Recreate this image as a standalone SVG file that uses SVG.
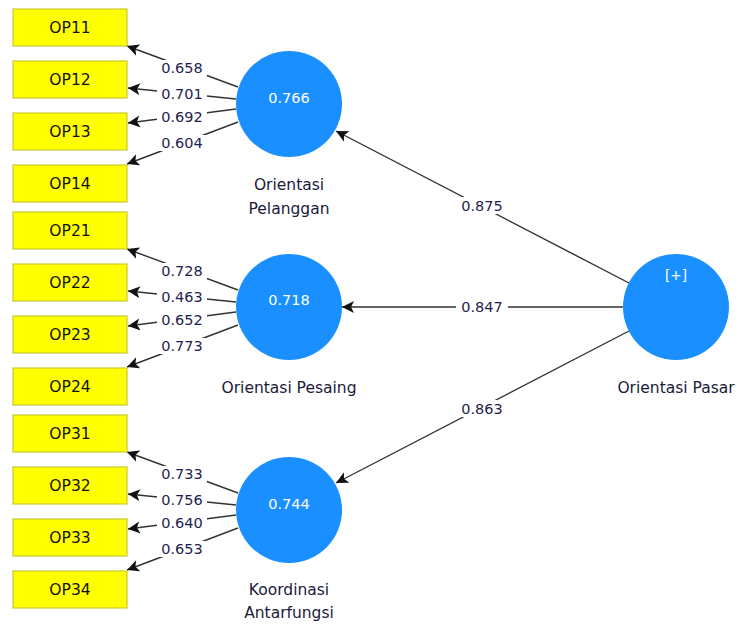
<svg xmlns="http://www.w3.org/2000/svg" width="741" height="627" viewBox="0 0 741 627">
<style>
.box{fill:#ffff00;stroke:#c8c832;stroke-width:1.2}
.bt{font-family:"DejaVu Sans",sans-serif;font-size:15.5px;fill:#111;text-anchor:middle}
.lv{fill:#1a8fff}
.ct{font-family:"DejaVu Sans",sans-serif;font-size:14.5px;fill:#ffffff;text-anchor:middle}
.lab{font-family:"DejaVu Sans",sans-serif;font-size:15.5px;fill:#1a1a3a;text-anchor:middle}
.num{font-family:"DejaVu Sans",sans-serif;font-size:14.5px;fill:#1e1e4e;text-anchor:middle}
.ln{stroke:#333;stroke-width:1.4;fill:none;marker-end:url(#ah)}
.bg{fill:#ffffff}
</style>
<defs>
<marker id="ah" markerUnits="userSpaceOnUse" markerWidth="14" markerHeight="13" refX="12" refY="6" orient="auto">
<path d="M0,0 L12,6 L0,12 L3,6 Z" fill="#111"/>
</marker>
</defs>
<rect width="741" height="627" fill="#ffffff"/>
<g id="connectors">
<path class="ln" d="M238,87 L127,46"/>
<path class="ln" d="M236,99 L128,88"/>
<path class="ln" d="M236,109 L128,123"/>
<path class="ln" d="M238,122 L127,164"/>
<path class="ln" d="M238,290 L127,249"/>
<path class="ln" d="M236,302 L128,291"/>
<path class="ln" d="M236,312 L128,326"/>
<path class="ln" d="M238,325 L127,367"/>
<path class="ln" d="M238,493 L127,452"/>
<path class="ln" d="M236,505 L128,494"/>
<path class="ln" d="M236,515 L128,529"/>
<path class="ln" d="M238,528 L127,570"/>
<path class="ln" d="M629,283 L336,131"/>
<path class="ln" d="M623,307 L342,307"/>
<path class="ln" d="M629,331 L336,483"/>
<g id="loading-labels">
<rect class="bg" x="157" y="60" width="50" height="16"/><text class="num" x="182" y="73">0.658</text>
<rect class="bg" x="157" y="86" width="50" height="16"/><text class="num" x="182" y="99">0.701</text>
<rect class="bg" x="157" y="109" width="50" height="16"/><text class="num" x="182" y="122">0.692</text>
<rect class="bg" x="157" y="135" width="50" height="16"/><text class="num" x="182" y="148">0.604</text>
<rect class="bg" x="157" y="263" width="50" height="16"/><text class="num" x="182" y="276">0.728</text>
<rect class="bg" x="157" y="289" width="50" height="16"/><text class="num" x="182" y="302">0.463</text>
<rect class="bg" x="157" y="312" width="50" height="16"/><text class="num" x="182" y="325">0.652</text>
<rect class="bg" x="157" y="338" width="50" height="16"/><text class="num" x="182" y="351">0.773</text>
<rect class="bg" x="157" y="466" width="50" height="16"/><text class="num" x="182" y="479">0.733</text>
<rect class="bg" x="157" y="492" width="50" height="16"/><text class="num" x="182" y="505">0.756</text>
<rect class="bg" x="157" y="515" width="50" height="16"/><text class="num" x="182" y="528">0.640</text>
<rect class="bg" x="157" y="541" width="50" height="16"/><text class="num" x="182" y="554">0.653</text>
<rect class="bg" x="456" y="197" width="52" height="17"/><text class="num" x="482" y="211">0.875</text>
<rect class="bg" x="456" y="299" width="52" height="17"/><text class="num" x="482" y="312">0.847</text>
<rect class="bg" x="456" y="400" width="52" height="17"/><text class="num" x="482" y="414">0.863</text>
</g>
</g>
<g id="OP11"><rect class="box" x="13" y="9" width="114" height="37"/><text class="bt" x="70" y="33">OP11</text></g>
<g id="OP12"><rect class="box" x="13" y="61" width="114" height="37"/><text class="bt" x="70" y="85">OP12</text></g>
<g id="OP13"><rect class="box" x="13" y="113" width="114" height="37"/><text class="bt" x="70" y="137">OP13</text></g>
<g id="OP14"><rect class="box" x="13" y="165" width="114" height="37"/><text class="bt" x="70" y="189">OP14</text></g>
<g id="OP21"><rect class="box" x="13" y="212" width="114" height="37"/><text class="bt" x="70" y="236">OP21</text></g>
<g id="OP22"><rect class="box" x="13" y="264" width="114" height="37"/><text class="bt" x="70" y="288">OP22</text></g>
<g id="OP23"><rect class="box" x="13" y="316" width="114" height="37"/><text class="bt" x="70" y="340">OP23</text></g>
<g id="OP24"><rect class="box" x="13" y="368" width="114" height="37"/><text class="bt" x="70" y="392">OP24</text></g>
<g id="OP31"><rect class="box" x="13" y="415" width="114" height="37"/><text class="bt" x="70" y="439">OP31</text></g>
<g id="OP32"><rect class="box" x="13" y="467" width="114" height="37"/><text class="bt" x="70" y="491">OP32</text></g>
<g id="OP33"><rect class="box" x="13" y="519" width="114" height="37"/><text class="bt" x="70" y="543">OP33</text></g>
<g id="OP34"><rect class="box" x="13" y="571" width="114" height="37"/><text class="bt" x="70" y="595">OP34</text></g>
<g id="OrientasiPelanggan"><circle class="lv" cx="289" cy="104" r="53"/><text class="ct" x="289" y="103">0.766</text><text class="lab" x="289" y="190">Orientasi</text><text class="lab" x="289" y="214">Pelanggan</text></g>
<g id="OrientasiPesaing"><circle class="lv" cx="289" cy="307" r="53"/><text class="ct" x="289" y="305">0.718</text><text class="lab" x="289" y="393">Orientasi Pesaing</text></g>
<g id="KoordinasiAntarfungsi"><circle class="lv" cx="289" cy="510" r="53"/><text class="ct" x="289" y="509">0.744</text><text class="lab" x="289" y="595">Koordinasi</text><text class="lab" x="289" y="618">Antarfungsi</text></g>
<g id="OrientasiPasar"><circle class="lv" cx="676" cy="307" r="53"/><text class="ct" x="676" y="280" style="font-size:13.5px">[+]</text><text class="lab" x="676" y="393">Orientasi Pasar</text></g>
</svg>
